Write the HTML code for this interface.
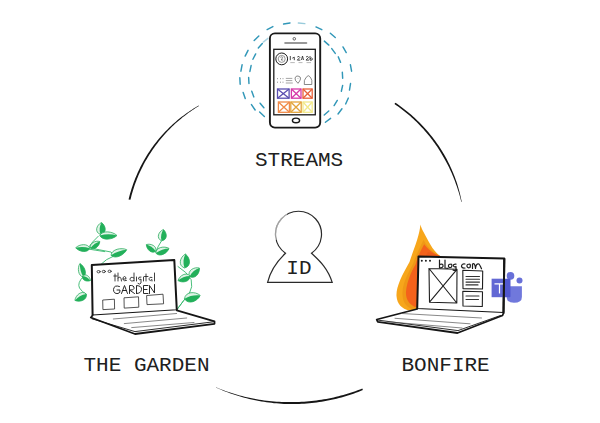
<!DOCTYPE html>
<html><head><meta charset="utf-8">
<style>
html,body{margin:0;padding:0;background:#fff;}
body{width:600px;height:423px;overflow:hidden;position:relative;}
svg{position:absolute;left:0;top:0;}
.lbl{font-family:"Liberation Mono",monospace;fill:#202020;}
</style></head><body>
<svg width="600" height="423" viewBox="0 0 600 423">
<path d="M198.69 105.51 L196.96 106.52 L195.24 107.55 L193.53 108.6 L191.84 109.68 L190.17 110.78 L188.51 111.9 L186.86 113.04 L185.23 114.21 L183.61 115.4 L182.01 116.61 L180.43 117.84 L178.86 119.09 L177.31 120.37 L175.78 121.66 L174.27 122.98 L172.77 124.32 L171.3 125.68 L169.84 127.06 L168.4 128.46 L166.98 129.88 L165.58 131.32 L164.2 132.78 L162.84 134.26 L161.49 135.76 L160.17 137.27 L158.87 138.8 L157.59 140.35 L156.33 141.91 L155.09 143.5 L153.87 145.1 L152.68 146.72 L151.52 148.36 L150.38 150.02 L149.26 151.69 L148.16 153.37 L147.09 155.07 L146.04 156.79 L145.01 158.52 L144 160.26 L143.02 162.01 L142.07 163.78 L141.13 165.56 L140.22 167.36 L139.34 169.16 L138.47 170.98 L137.64 172.81 L136.83 174.65 L136.04 176.5 L135.28 178.36 L134.54 180.23 L133.83 182.12 L133.14 184.01 L132.48 185.91 L131.84 187.82 L131.23 189.73 L130.65 191.66 L130.09 193.59 L129.56 195.53 L129.05 197.48 L128.57 199.43 L130.42 199.87 L130.89 197.94 L131.38 196.02 L131.9 194.1 L132.45 192.19 L133.02 190.28 L133.61 188.39 L134.23 186.5 L134.88 184.62 L135.55 182.75 L136.25 180.89 L136.97 179.04 L137.72 177.2 L138.49 175.37 L139.29 173.55 L140.11 171.74 L140.95 169.94 L141.82 168.15 L142.71 166.38 L143.63 164.61 L144.57 162.86 L145.54 161.12 L146.52 159.4 L147.53 157.69 L148.57 155.99 L149.62 154.31 L150.7 152.64 L151.8 150.98 L152.93 149.34 L154.07 147.72 L155.24 146.11 L156.42 144.51 L157.62 142.92 L158.84 141.35 L160.08 139.8 L161.34 138.26 L162.62 136.74 L163.93 135.24 L165.25 133.75 L166.6 132.29 L167.96 130.84 L169.34 129.41 L170.75 127.99 L172.17 126.6 L173.61 125.23 L175.07 123.87 L176.54 122.53 L178.03 121.21 L179.54 119.91 L181.07 118.63 L182.61 117.37 L184.17 116.13 L185.75 114.91 L187.34 113.71 L188.96 112.54 L190.58 111.38 L192.22 110.25 L193.88 109.14 L195.55 108.05 L197.24 106.98 L198.94 105.94Z" fill="#161616"/>
<path d="M395.35 102.68 L397.04 103.82 L398.71 104.99 L400.37 106.18 L402.01 107.4 L403.64 108.63 L405.25 109.88 L406.85 111.16 L408.43 112.45 L409.99 113.77 L411.53 115.1 L413.06 116.46 L414.57 117.83 L416.06 119.22 L417.54 120.64 L418.99 122.07 L420.43 123.52 L421.85 124.99 L423.25 126.47 L424.63 127.98 L426 129.5 L427.34 131.04 L428.66 132.59 L429.96 134.16 L431.25 135.75 L432.51 137.36 L433.75 138.98 L434.97 140.62 L436.17 142.27 L437.35 143.94 L438.51 145.62 L439.64 147.32 L440.75 149.03 L441.85 150.76 L442.92 152.5 L443.96 154.25 L444.99 156.02 L445.97 157.81 L446.93 159.61 L447.86 161.43 L448.78 163.26 L449.66 165.09 L450.53 166.94 L451.37 168.8 L452.19 170.67 L452.98 172.55 L453.75 174.44 L454.49 176.34 L455.21 178.25 L455.91 180.17 L456.58 182.09 L457.22 184.03 L457.82 185.98 L458.4 187.93 L458.94 189.9 L459.46 191.87 L459.96 193.84 L460.43 195.82 L460.88 197.81 L461.3 199.8 L461.69 201.79 L461.3 201.88 L460.82 199.91 L460.32 197.94 L459.79 195.99 L459.23 194.04 L458.65 192.09 L458.05 190.16 L457.42 188.24 L456.77 186.32 L456.09 184.41 L455.41 182.51 L454.71 180.61 L453.98 178.72 L453.23 176.84 L452.45 174.97 L451.66 173.12 L450.83 171.27 L449.99 169.43 L449.12 167.61 L448.23 165.79 L447.31 163.99 L446.37 162.2 L445.41 160.43 L444.43 158.66 L443.42 156.91 L442.41 155.16 L441.38 153.42 L440.33 151.7 L439.26 149.99 L438.16 148.29 L437.04 146.61 L435.9 144.94 L434.74 143.29 L433.56 141.65 L432.36 140.03 L431.13 138.42 L429.89 136.83 L428.62 135.26 L427.34 133.7 L426.04 132.15 L424.71 130.63 L423.37 129.12 L422.01 127.63 L420.62 126.15 L419.22 124.7 L417.81 123.26 L416.37 121.84 L414.91 120.44 L413.44 119.06 L411.95 117.69 L410.44 116.35 L408.92 115.02 L407.37 113.72 L405.81 112.43 L404.24 111.17 L402.65 109.92 L401.04 108.69 L399.42 107.49 L397.78 106.31 L396.13 105.14 L394.46 104Z" fill="#161616"/>
<path d="M215.87 387.59 L218.17 388.6 L220.49 389.58 L222.81 390.53 L225.15 391.44 L227.51 392.33 L229.87 393.19 L232.24 394.01 L234.63 394.81 L237.03 395.57 L239.43 396.3 L241.85 397 L244.28 397.66 L246.71 398.3 L249.16 398.9 L251.61 399.47 L254.07 400.01 L256.53 400.51 L259.01 400.98 L261.49 401.42 L263.97 401.83 L266.47 402.2 L268.96 402.54 L271.46 402.85 L273.97 403.13 L276.48 403.37 L278.99 403.58 L281.51 403.76 L284.02 403.9 L286.54 404.01 L289.07 404.08 L291.59 404.1 L294.11 404.08 L296.63 404.02 L299.15 403.94 L301.67 403.82 L304.19 403.67 L306.71 403.48 L309.22 403.26 L311.73 403.01 L314.24 402.72 L316.74 402.4 L319.24 402.05 L321.73 401.67 L324.22 401.25 L326.7 400.8 L329.17 400.32 L331.64 399.8 L334.11 399.26 L336.56 398.68 L339.01 398.06 L341.45 397.42 L343.87 396.74 L346.3 396.03 L348.71 395.29 L351.1 394.49 L353.48 393.66 L355.85 392.79 L358.2 391.9 L360.55 390.97 L362.88 390.02 L362.32 388.62 L359.98 389.51 L357.63 390.37 L355.27 391.19 L352.9 391.99 L350.53 392.75 L348.14 393.48 L345.75 394.21 L343.35 394.91 L340.95 395.57 L338.53 396.21 L336.11 396.81 L333.68 397.38 L331.24 397.92 L328.79 398.42 L326.34 398.9 L323.88 399.34 L321.42 399.75 L318.95 400.12 L316.48 400.47 L314 400.78 L311.52 401.06 L309.04 401.3 L306.55 401.52 L304.06 401.7 L301.57 401.84 L299.07 401.96 L296.58 402.04 L294.08 402.09 L291.59 402.1 L289.09 402.08 L286.59 402.06 L284.1 402.01 L281.6 401.92 L279.11 401.81 L276.61 401.65 L274.12 401.47 L271.63 401.25 L269.15 401 L266.66 400.72 L264.18 400.4 L261.71 400.05 L259.24 399.67 L256.77 399.25 L254.31 398.81 L251.85 398.33 L249.4 397.82 L246.96 397.27 L244.52 396.7 L242.1 396.09 L239.68 395.45 L237.26 394.78 L234.86 394.07 L232.46 393.34 L230.08 392.57 L227.7 391.77 L225.34 390.94 L222.99 390.08 L220.64 389.19 L218.31 388.27 L215.99 387.32Z" fill="#161616"/>

<!-- dashed circles -->
<g fill="none" stroke="#3197b8" stroke-width="1.45" stroke-linecap="round">
<line x1="240.91" y1="71.2" x2="242.09" y2="64.8" opacity="1"/>
<line x1="245.14" y1="56.1" x2="248.06" y2="50.3" opacity="1"/>
<line x1="254.19" y1="40.49" x2="258.81" y2="35.91" opacity="1"/>
<line x1="267.12" y1="29.6" x2="272.88" y2="26.6" opacity="1"/>
<line x1="283.6" y1="24.04" x2="290" y2="22.96" opacity="1"/>
<line x1="298.37" y1="22.97" x2="304.83" y2="23.63" opacity="0.5"/>
<line x1="315.95" y1="26.94" x2="321.85" y2="29.66" opacity="1"/>
<line x1="330.34" y1="33.28" x2="335.26" y2="37.52" opacity="1"/>
<line x1="342.96" y1="46.89" x2="346.24" y2="52.51" opacity="1"/>
<line x1="350.42" y1="64.8" x2="351.58" y2="71.2" opacity="1"/>
<line x1="350.52" y1="83.59" x2="349.48" y2="90.01" opacity="1"/>
<line x1="348.34" y1="98.04" x2="345.66" y2="103.96" opacity="1"/>
<line x1="341.97" y1="108.81" x2="338.03" y2="113.99" opacity="1"/>
<line x1="330.59" y1="118.34" x2="325.41" y2="122.26" opacity="1"/>
<line x1="240.17" y1="84.25" x2="239.83" y2="77.75" opacity="1"/>
<line x1="245.24" y1="98.58" x2="243.16" y2="92.42" opacity="1"/>
<line x1="255.14" y1="109.98" x2="251.46" y2="104.62" opacity="1"/>
<line x1="264.37" y1="116.52" x2="259.63" y2="112.08" opacity="1"/>
<line x1="263.26" y1="42.08" x2="267.94" y2="38.32" opacity="0.4"/>
<line x1="258.29" y1="47.92" x2="262.31" y2="43.48" opacity="1"/>
<line x1="252.93" y1="59.27" x2="255.67" y2="53.93" opacity="1"/>
<line x1="249.89" y1="71.44" x2="251.11" y2="65.56" opacity="1"/>
<line x1="248.96" y1="83.5" x2="248.64" y2="77.5" opacity="1"/>
<line x1="253.85" y1="96.91" x2="251.75" y2="91.29" opacity="1"/>
<line x1="263.89" y1="107.83" x2="260.11" y2="103.17" opacity="1"/>
<line x1="324.34" y1="41.12" x2="328.86" y2="45.08" opacity="1"/>
<line x1="331.75" y1="48.57" x2="335.25" y2="53.43" opacity="1"/>
<line x1="338.23" y1="56.84" x2="340.57" y2="62.36" opacity="1"/>
<line x1="342.33" y1="72.31" x2="342.67" y2="78.29" opacity="1"/>
<line x1="342.66" y1="85.37" x2="341.34" y2="91.23" opacity="1"/>
<line x1="337.3" y1="100.46" x2="334.1" y2="105.54" opacity="1"/>
<line x1="328.76" y1="111.03" x2="324.24" y2="114.97" opacity="1"/>
</g>

<!-- phone -->
<g stroke="#1a1a1a" fill="#fff">
<rect x="269.9" y="33.4" width="50.3" height="94.2" rx="5" ry="5" stroke-width="1.9"/>
<rect x="273.8" y="49.3" width="41.5" height="65.5" stroke-width="1.3" fill="#fff"/>
<circle cx="294.3" cy="38.8" r="1.3" stroke-width="0.9" stroke="#555"/>
<line x1="285" y1="43" x2="306.5" y2="43" stroke-width="1.6" stroke="#777" stroke-linecap="round"/>
<ellipse cx="296" cy="120.4" rx="3.6" ry="2.3" stroke-width="1.4"/>
<circle cx="281.7" cy="58.9" r="5.9" stroke-width="1"/>
<circle cx="281.7" cy="58.9" r="3.5" stroke-width="0.7" stroke="#666"/>
</g>
<g fill="none" stroke="#333" stroke-width="0.7">
<path d="M280.5 57.5 q1.5-1.5 2.2 0 l-1.5 2.5 h2" stroke="#555"/>
<path stroke-width="0.9" d="M290.3 56 v4.2 M292.3 58.2 l2 -1 v3 M297.3 57 q2-1.5 2.5 0.5 l-2.5 2.6 h3 M301.5 60 l1-4 l1 4 M306 57 q2-1.5 2.5 0.5 l-2.5 2.6 h3 M310 56 v4.2 q2.5 0.5 2.5-1.5 q-1-1.5-2.5 0"/>
<path d="M290.3 62.6 h4.5 M298.5 62.6 h4 M306.5 62.6 h4.5" stroke="#888" stroke-width="0.6"/>
<path d="M277.2 78.7 h0.8 M280.2 78.7 h0.8 M282.6 78.7 h0.8 M277.2 82.2 h0.8 M280.2 82.2 h0.8 M282.6 82.2 h0.8" stroke-width="1" stroke="#777"/>
<path d="M285.8 78.4 h6.5 M285.8 80.6 h6.5 M285.8 83 h7" stroke-width="0.6" stroke="#666"/>
<path d="M298 83.3 q-3.5-3-3-5.3 q1-2.5 3-2 q3 0.5 2.5 3 q-0.5 2-2.5 4.3z M298 78 v0.5" stroke="#555"/>
<path d="M304.3 84.5 q-0.5-5 1.5-6.5 l1.5-1.8 q1-1 2 0 l1.5 1.8 q1.5 1.5 1 6.5 z" stroke="#555"/>
</g>
<g fill="none" stroke-width="1.3">
<rect x="277.5" y="89" width="11.6" height="9.2" stroke="#5a4fb0"/><path d="M277.5 89 L289.1 98.2 M289.1 89 L277.5 98.2" stroke="#5a4fb0"/>
<rect x="291.4" y="89" width="9.6" height="9.2" stroke="#d63aa8"/><path d="M291.4 89 L301 98.2 M301 89 L291.4 98.2" stroke="#d63aa8"/>
<rect x="303" y="89" width="9.2" height="9.2" stroke="#e8603a"/><path d="M303 89 L312.2 98.2 M312.2 89 L303 98.2" stroke="#e8603a"/>
<rect x="278.4" y="102" width="11" height="10.3" stroke="#f08a48"/><path d="M278.4 102 L289.4 112.3 M289.4 102 L278.4 112.3" stroke="#f08a48"/>
<rect x="290.8" y="102" width="10.4" height="10.3" stroke="#e3a53c"/><path d="M290.8 102 L301.2 112.3 M301.2 102 L290.8 112.3" stroke="#e3a53c"/>
<rect x="303" y="102" width="9.2" height="10.3" stroke="#f2e98a"/><path d="M303 102 L312.2 112.3 M312.2 102 L303 112.3" stroke="#f2e98a"/>
</g>

<text class="lbl" x="255" y="165.7" font-size="21">STREAMS</text>

<!-- ID figure -->
<path d="M285.5 253.2 A23 23 0 1 1 311.5 253.2 C317.5 259 327.5 267 332.2 282.4 L267.6 282.4 C271 268 280 258.5 285.5 253.2 Z" fill="#fff" stroke="#2a2a2a" stroke-width="1.2"/>
<path d="M276 240 A23 23 0 0 1 287 214.5" fill="none" stroke="#fff" stroke-width="1.6" opacity="0.55"/>
<text class="lbl" x="286.3" y="273.6" font-size="21">ID</text>

<!-- garden vines -->
<path d="M98.3 236.2 Q92 242 88.4 247.6 Q100 250 111 252 Q114 255 113 256.5 Q106 259 101.5 263.8" fill="none" stroke="#36b86c" stroke-width="0.9" stroke-linecap="round"/>
<path d="M104.7 251.6 Q94 250 88 249" fill="none" stroke="#36b86c" stroke-width="0.9" stroke-linecap="round"/>
<path d="M83 277 Q77 283 79.5 288 Q82 292 86 294" fill="none" stroke="#36b86c" stroke-width="0.9" stroke-linecap="round"/>
<path d="M155.8 252 Q158 246 161.5 240.8" fill="none" stroke="#36b86c" stroke-width="0.9" stroke-linecap="round"/>
<path d="M178 266.5 Q187 272 191.2 279.7 Q193 287 189.5 293 Q184 300 177.4 309" fill="none" stroke="#36b86c" stroke-width="0.9" stroke-linecap="round"/>
<path d="M189.5 293 Q184 300 177.4 309" fill="none" stroke="#36b86c" stroke-width="0.9" stroke-linecap="round"/>
<path d="M100.5 234.5 C107.13 233.24 106.11 225.9 101.5 222.5 C96.39 225.1 94.17 232.16 100.5 234.5Z" fill="#dff3e6" stroke="#1fa856" stroke-width="0.75"/><path d="M100.5 234.5 C107.13 233.24 106.11 225.9 101.5 222.5 C99.58 225.97 98.91 230.14 100.5 234.5Z" fill="#22b05a"/>
<path d="M99.8 235.5 C102.38 241 112.7 239.62 117 235.5 C112.7 231.38 102.38 230 99.8 235.5Z" fill="#dff3e6" stroke="#1fa856" stroke-width="0.75"/><path d="M99.8 235.5 C102.38 241 112.7 239.62 117 235.5 C111.84 234.12 105.82 233.85 99.8 235.5Z" fill="#22b05a"/>
<path d="M89.8 248.3 C87.5 253.42 79.09 251.82 75.7 247.8 C79.36 244.03 87.87 243.03 89.8 248.3Z" fill="#dff3e6" stroke="#1fa856" stroke-width="0.75"/><path d="M89.8 248.3 C87.5 253.42 79.09 251.82 75.7 247.8 C79.98 246.65 84.92 246.57 89.8 248.3Z" fill="#22b05a"/>
<path d="M90.5 248 C94.53 250.8 99.45 245.95 99.8 241.5 C95.5 240.3 89.26 243.25 90.5 248Z" fill="#dff3e6" stroke="#1fa856" stroke-width="0.75"/><path d="M90.5 248 C94.53 250.8 99.45 245.95 99.8 241.5 C96.35 242.51 92.96 244.59 90.5 248Z" fill="#22b05a"/>
<path d="M111 255.3 C115.2 259.64 124.16 254.99 126.7 249.7 C121.39 247.21 111.51 249.28 111 255.3Z" fill="#dff3e6" stroke="#1fa856" stroke-width="0.75"/><path d="M111 255.3 C115.2 259.64 124.16 254.99 126.7 249.7 C121.53 250.08 115.94 251.79 111 255.3Z" fill="#22b05a"/>
<path d="M83.4 277 C87.71 273.72 84.4 265.93 79.9 263.5 C77.15 267.82 78.04 276.23 83.4 277Z" fill="#dff3e6" stroke="#1fa856" stroke-width="0.75"/><path d="M83.4 277 C87.71 273.72 84.4 265.93 79.9 263.5 C79.74 267.86 80.72 272.65 83.4 277Z" fill="#22b05a"/>
<path d="M82.5 276 C81.64 280.34 86.96 282.12 90.5 280.5 C90.04 276.63 85.76 273.01 82.5 276Z" fill="#dff3e6" stroke="#1fa856" stroke-width="0.75"/><path d="M82.5 276 C81.64 280.34 86.96 282.12 90.5 280.5 C88.61 278.23 85.92 276.48 82.5 276Z" fill="#22b05a"/>
<path d="M86.3 294 C87.43 300.02 79.88 302.59 74.9 300.4 C75.62 295.01 81.75 289.9 86.3 294Z" fill="#dff3e6" stroke="#1fa856" stroke-width="0.75"/><path d="M86.3 294 C87.43 300.02 79.88 302.59 74.9 300.4 C77.61 297.22 81.46 294.72 86.3 294Z" fill="#22b05a"/>
<path d="M161.5 240.8 C167.7 240.1 167.36 233.07 163.4 229.5 C158.49 231.58 155.87 238.11 161.5 240.8Z" fill="#dff3e6" stroke="#1fa856" stroke-width="0.75"/><path d="M161.5 240.8 C167.7 240.1 167.36 233.07 163.4 229.5 C161.35 232.64 160.39 236.55 161.5 240.8Z" fill="#22b05a"/>
<path d="M155.8 251.2 C151.52 254.32 146.54 249.33 146.3 244.6 C150.81 243.17 157.23 246.1 155.8 251.2Z" fill="#dff3e6" stroke="#1fa856" stroke-width="0.75"/><path d="M155.8 251.2 C151.52 254.32 146.54 249.33 146.3 244.6 C149.86 245.55 153.33 247.66 155.8 251.2Z" fill="#22b05a"/>
<path d="M155.8 253.1 C159.62 257.58 167.08 253.46 169 248.4 C164.32 245.69 155.94 247.21 155.8 253.1Z" fill="#dff3e6" stroke="#1fa856" stroke-width="0.75"/><path d="M155.8 253.1 C159.62 257.58 167.08 253.46 169 248.4 C164.58 248.51 159.87 249.9 155.8 253.1Z" fill="#22b05a"/>
<path d="M184.5 268 C191.62 266.35 190.41 257.84 185.4 254 C179.94 257.16 177.65 265.45 184.5 268Z" fill="#dff3e6" stroke="#1fa856" stroke-width="0.75"/><path d="M184.5 268 C191.62 266.35 190.41 257.84 185.4 254 C183.38 258.09 182.72 262.97 184.5 268Z" fill="#22b05a"/>
<path d="M189.5 276.4 C194.87 279.72 199.84 273.53 199.4 268 C194.01 266.67 187.1 270.56 189.5 276.4Z" fill="#dff3e6" stroke="#1fa856" stroke-width="0.75"/><path d="M189.5 276.4 C194.87 279.72 199.84 273.53 199.4 268 C195.46 269.38 191.8 272.09 189.5 276.4Z" fill="#22b05a"/>
<path d="M190 276 C190.17 281.83 182.48 283.3 178 280.6 C179.52 275.6 186.23 271.55 190 276Z" fill="#dff3e6" stroke="#1fa856" stroke-width="0.75"/><path d="M190 276 C190.17 281.83 182.48 283.3 178 280.6 C181.11 277.94 185.21 276.07 190 276Z" fill="#22b05a"/>
<path d="M184.5 298.8 C188.34 305.13 197.39 301.38 200.2 295.4 C195.16 291.12 185.37 291.45 184.5 298.8Z" fill="#dff3e6" stroke="#1fa856" stroke-width="0.75"/><path d="M184.5 298.8 C188.34 305.13 197.39 301.38 200.2 295.4 C195.12 294.71 189.55 295.56 184.5 298.8Z" fill="#22b05a"/>

<!-- garden laptop -->
<g stroke="#151515" stroke-linejoin="round" stroke-linecap="round">
<path d="M91.8 265 L174.3 260 L176.8 310.3 L92.6 315.5 Z" fill="#fff" stroke-width="2"/>
<path d="M92.6 315.5 L90.8 317.5 L135 334 L214.5 323.8 L214.5 321.4 L176.8 310.3" fill="#fff" stroke-width="1.8"/>
<path d="M92 318.8 L135 331.6 L213.5 321.8" fill="none" stroke-width="0.9"/>
<path d="M113.3 319 L176.6 313.5 M124.3 323.6 L186.7 318 M131.7 327.6 L194 322.5" fill="none" stroke-width="0.7" stroke="#555"/>
</g>
<g fill="none" stroke="#2a2a2a" stroke-width="0.8" stroke-linecap="round" stroke-linejoin="round">
<ellipse cx="98.6" cy="271.7" rx="1.6" ry="1.2"/><ellipse cx="103.8" cy="271.5" rx="1.6" ry="1.2"/><ellipse cx="109.6" cy="271.3" rx="1.6" ry="1.2"/>
<path d="M103.1 300 L114.4 299.2 L114.6 309 L103.3 309.6 Z M124.4 297.8 L138.5 296.8 L138.8 307.2 L124.6 308.1 Z M147 295.5 L163 294.2 L163.6 303.8 L147.4 304.6 Z"/>
<path stroke-width="1.0" d="M119.5 286.5 Q114 284.5 113.5 289.5 Q113.5 294 118 293.5 Q120.5 293 120 290 L117 290 M121.5 293.5 L124.5 285.5 L127.5 293.5 M122.5 290.5 L126.5 290.5 M129.5 293.5 V285.5 Q134.5 285 134 288.5 Q133.5 290.5 129.5 290 L134.5 293.5 M136.5 293.5 V285.5 Q142 286 141.5 289.5 Q141 293.5 136.5 293.5 M148 285.5 H143.5 V293.5 H148 M143.5 289.5 H147 M149.5 293.5 V285.5 L154.5 293 V284.5"/>
<path stroke-width="0.9" d="M115 274 V281 M113.8 276 H117 M118 273 V281 M118 278 Q121 275 121.5 281 M123 279 H126 Q126 276.5 124.5 276.5 Q122.5 277 123 279.5 Q124 281.5 126.5 280.5 M134 273 V281 M134 278 Q130 276 130 279.5 Q131 282 134 280.5 M136.5 277 V281 M141 277 Q138 276.5 138.5 279 Q139.5 280.5 141 279 V283 Q140 285 138 283.5 M143.5 277 V281 M146 274 V281 M144.5 276.5 H148 M152 277.5 Q149 276.5 149 279.5 Q150 281.5 152 279.5 V281 M154.5 273 V281"/>
</g>

<text class="lbl" x="83.5" y="370.7" font-size="21">THE GARDEN</text>

<!-- flame -->
<path d="M420.4 224.4 C419.5 236 414 248 409.5 262 C402 275 396 287 396.5 296 C397 304 402 309 409.2 310.5 L440 312 L440 256 C432 250 428 240 424.2 233.3 C422.5 230 421 227 420.4 224.4 Z" fill="#f7a61b"/>
<path d="M423.5 240 C420 247 416 255 413 264 C408 273 403 283 402.5 292 C402 300 405 306 411 308.5 L440 311 L440 256 C432 252 427 246 423.5 240 Z" fill="#ef9816"/>
<path d="M424.2 244.2 C421 250 418 256 415.5 264.6 C411 272 407 282 406 291.4 C405.5 299 409 304 414.3 306.7 L440 310 L440 256 C432 253 427 248 424.2 244.2 Z" fill="#f4621b"/>
<path d="M428 252 C424 258 420 268 418 280 C417 292 418 300 422 306 L440 309 L440 256 Z" fill="#e5561a" opacity="0.55"/>

<!-- teams icon -->
<g>
<circle cx="519.5" cy="280.6" r="3" fill="#6870d8"/>
<path d="M506.7 286.3 H521.9 V297 Q521.9 302.8 514 302.8 Q506.7 302.8 506.7 297 Z" fill="#7078dc"/>
<circle cx="510.5" cy="275.9" r="3.8" fill="#6870d8"/>
<rect x="491.6" y="278.7" width="18.9" height="18.5" rx="1" fill="#5158cf"/>
<path d="M494.5 283.9 H505 M499.5 283.9 V293.4" stroke="#fff" stroke-width="1.2"/>
</g>

<!-- bonfire laptop -->
<g stroke="#151515" stroke-linejoin="round" stroke-linecap="round">
<path d="M418.5 256.5 L504.3 258.5 L503.5 313 L417.2 309 Z" fill="#fff" stroke-width="2"/>
<path d="M417.2 309 L376.7 319.5 L377.8 321.8 L457.5 333 L502.5 315.5 L503.5 313" fill="#fff" stroke-width="1.8"/>
<path d="M378.5 320.2 L458 330.6 L500.5 315.5" fill="none" stroke-width="0.9"/>
<path d="M401.7 313.5 L481.5 318 M395 318.3 L470 323.8 M388 321.8 L462 328" fill="none" stroke-width="0.7" stroke="#555"/>
</g>
<rect x="491.6" y="278.7" width="12.7" height="18.5" fill="#5158cf" opacity="0.9"/>
<path d="M494.5 283.9 H504.3 M499.5 283.9 V293.4" stroke="#fff" stroke-width="1.2"/>
<line x1="504.3" y1="258.5" x2="503.5" y2="312.5" stroke="#151515" stroke-width="2"/>
<g fill="none" stroke="#1e1e1e" stroke-width="1" stroke-linecap="round" stroke-linejoin="round">
<circle cx="421.8" cy="260.8" r="1" fill="#1e1e1e" stroke="none"/><circle cx="425.9" cy="260.8" r="1" fill="#1e1e1e" stroke="none"/><circle cx="430" cy="260.8" r="1" fill="#1e1e1e" stroke="none"/>
<path d="M429 268.5 L457 269.3 L456.8 303 L429.5 302.2 Z M429 268.5 L456.8 303 M457 269.3 L429.5 302.2" stroke-width="1.1"/>
<path d="M462.8 270.3 L482.7 271 L482.5 289 L463 288.6 Z M462.8 291.3 L482.5 291.8 L482.3 306.5 L463 306 Z" stroke-width="1.1"/>
<path d="M466 276.5 h13.5 M466 279.3 h13.5 M466 282.1 h13.5 M466 284.9 h12 M466 296 h13 M466 299.5 h12.5" stroke-width="1.1" stroke="#333"/>
<path stroke-width="1.2" d="M439.5 260 V268 M439.5 264.5 Q443.5 263 443 266.5 Q442 268.5 439.5 267.8 M445 260 V268 L448 268.3 M451 264 Q448 264 448.5 266.5 Q449.5 268.5 451.5 267 Q452.5 264.5 451 264 M456 264.2 Q453 264 453.5 266 Q454.5 267.5 456 266.5 V270 Q455 271 453 270 M465 264 Q461.5 263.5 461.5 266.5 Q462 268.5 465 268 M469.5 264 Q466.5 264 467 266.5 Q468 268.5 470 267.5 Q471 264.5 469.5 264 M472.5 268.5 V264 Q475 262.5 475.5 268.5 Q476 263 479 264 Q480.5 266 481.5 268.8"/>
</g>

<text class="lbl" x="401.5" y="371.2" font-size="21">BONFIRE</text>
</svg>
</body></html>
